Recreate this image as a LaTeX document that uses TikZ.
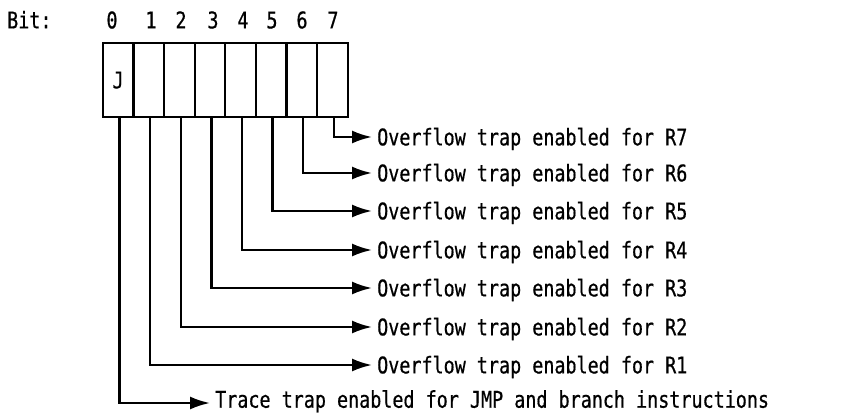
\documentclass[tikz,border=0pt]{standalone}
\usepackage{fontspec}
\setmonofont[FakeStretch=0.8,FakeBold=0.6]{DejaVu Sans Mono}
\usetikzlibrary{arrows.meta}
\begin{document}
\begin{tikzpicture}[x=1pt,y=-1pt,
  every node/.style={font=\ttfamily\fontsize{23}{26}\selectfont},
  cell/.style={draw,line width=2.2pt,minimum width=30.6pt,minimum height=74.3pt,inner sep=0pt,anchor=north west},
  lab/.style={inner xsep=5pt,inner ysep=0pt,text height=16.8pt,text depth=0pt,anchor=west},
  hdr/.style={inner sep=0pt,text height=16.8pt,text depth=0pt},
  conn/.style={line width=2.3pt,-{Latex[length=20pt,width=13pt]}}]
\useasboundingbox (0,0) rectangle (849,414);
% header
\node[hdr,anchor=west] (bit) at (7,20) {Bit:};
\foreach \i/\x in {0/112,1/151,2/181,3/213,4/243,5/272,6/302,7/333}
  \node[hdr] (n\i) at (\x,20) {\i};
% register cells
\foreach \i in {0,...,7}
  \node[cell] (b\i) at (101.7+30.6*\i,41.7) {};
\node[hdr] (J) at (b0.center) {J};
% labels
\node[lab] (t7) at (372,137) {Overflow trap enabled for R7};
\node[lab] (t6) at (372,173) {Overflow trap enabled for R6};
\node[lab] (t5) at (372,211) {Overflow trap enabled for R5};
\node[lab] (t4) at (372,250) {Overflow trap enabled for R4};
\node[lab] (t3) at (372,288) {Overflow trap enabled for R3};
\node[lab] (t2) at (372,327) {Overflow trap enabled for R2};
\node[lab] (t1) at (372,365) {Overflow trap enabled for R1};
\node[lab] (t0) at (210,399.3) {Trace trap enabled for JMP and branch instructions};
% connectors
\foreach \i in {1,...,7}
  \draw[conn] ([xshift=1.5pt]b\i.south) |- (t\i.west);
\draw[conn] ([xshift=1.5pt]b0.south) |- ([yshift=-3.7pt]t0.west);
\end{tikzpicture}
\end{document}
